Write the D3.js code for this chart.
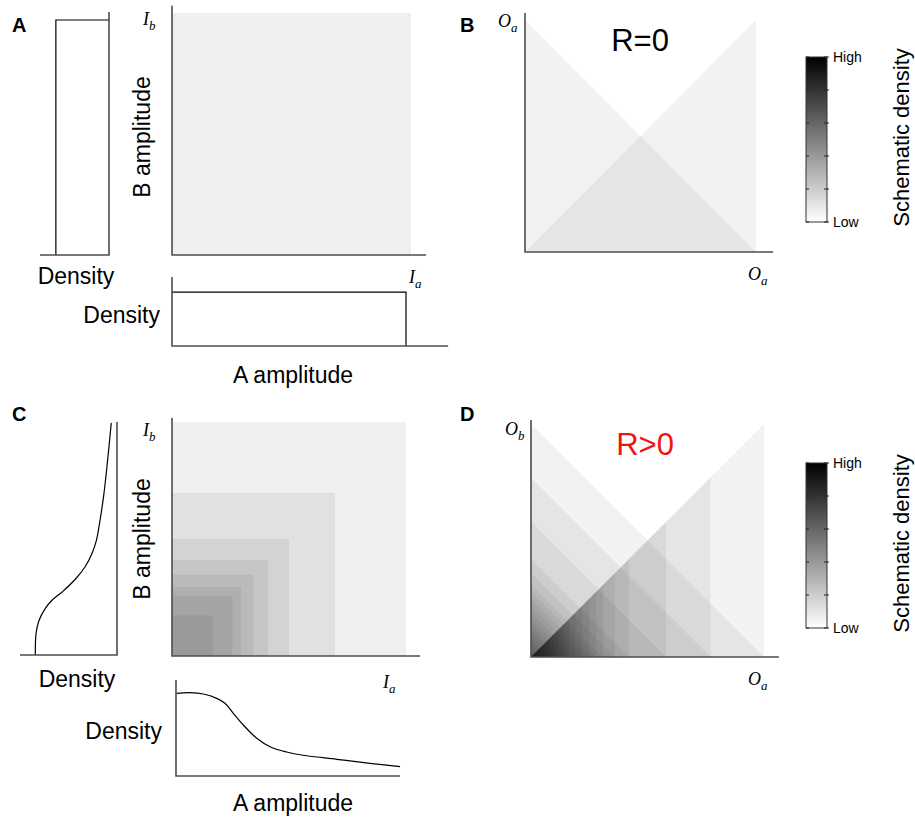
<!DOCTYPE html>
<html>
<head>
<meta charset="UTF-8">
<style>
  body { margin: 0; background: #fff; }
  svg text { font-family: "Liberation Sans", Arial, sans-serif; fill: #000; }
  svg text.sym { font-family: "Liberation Serif", "Times New Roman", serif; font-style: italic; }
</style>
</head>
<body>
<div id="fig"></div>
<script src="https://d3js.org/d3.v7.min.js"></script>
<script>

// ---- data (all in fractions of the axis range) ----
// flat input densities of panel A, as [amplitude, density] outline points
const uniformA = [[0, 0.78], [1, 0.78], [1, 0]];
const uniformB = [[0, 0.77], [1, 0.77], [1, 0]];
// skewed input densities of panel C, [amplitude, density]
const skewA = [[0.003, 0.861], [0.061, 0.868], [0.119, 0.854], [0.177, 0.809], [0.213, 0.757],
               [0.249, 0.653], [0.293, 0.531], [0.351, 0.393], [0.409, 0.305], [0.481, 0.25],
               [0.553, 0.216], [0.699, 0.174], [0.843, 0.132], [0.974, 0.097]];
const skewB = [[0, 0.842], [0.09, 0.835], [0.145, 0.807], [0.2, 0.739], [0.235, 0.67],
               [0.27, 0.567], [0.325, 0.43], [0.38, 0.327], [0.436, 0.258], [0.491, 0.213],
               [0.56, 0.182], [0.685, 0.137], [0.823, 0.1], [0.996, 0.059]];
// square sizes of the joint input density (A and C)
const squaresA = [1];
const squaresC = [1, 0.697, 0.50, 0.41, 0.347, 0.295, 0.258, 0.174];
// triangle sizes of the output density (B and D)
const trianglesB = [1];
const trianglesD = [1, 0.77, 0.58, 0.42, 0.36, 0.31, 0.28, 0.25, 0.22, 0.19, 0.165,
                    0.14, 0.12, 0.10, 0.08, 0.06, 0.04, 0.02];
const colorbarTicks = [0, 0.2, 0.4, 0.6, 0.8, 1];
const colorbarLabels = ["Low", "High"];
const rLabels = ["R=0", "R>0"];

const width = 915, height = 820;
const axisColor = "#4d4d4d";

const svg = d3.select("#fig").append("svg")
    .attr("width", width)
    .attr("height", height);

// gradient for the colour bars
const grad = svg.append("defs").append("linearGradient")
    .attr("id", "cbar")
    .attr("x1", 0).attr("y1", 1).attr("x2", 0).attr("y2", 0);
grad.append("stop").attr("offset", 0).attr("stop-color", "#ffffff");
grad.append("stop").attr("offset", 1).attr("stop-color", "#000000");

// L-shaped axis: vertical line up to yMax, horizontal line out to xMax
function axes(x, y, xMax, yMax) {
  svg.append("path")
    .attr("d", d3.line()([[x(0), y(yMax)], [x(0), y(0)], [x(xMax), y(0)]]))
    .attr("fill", "none")
    .attr("stroke", axisColor)
    .attr("stroke-width", 1.6);
}

function squares(data, x, y, op) {
  svg.append("g").selectAll("rect")
    .data(data)
    .enter().append("rect")
      .attr("x", x(0))
      .attr("y", d => y(d))
      .attr("width", d => x(d) - x(0))
      .attr("height", d => y(0) - y(d))
      .attr("fill", "#000")
      .attr("fill-opacity", op);
}

function triangles(data, x, y, op) {
  const poly = d3.line().x(p => x(p[0])).y(p => y(p[1]));
  const g = svg.append("g");
  // falling triangles (left) and rising triangles (right)
  g.selectAll("path.left")
    .data(data)
    .enter().append("path")
      .attr("class", "left")
      .attr("d", s => poly([[0, 0], [0, s], [s, 0]]) + "Z")
      .attr("fill", "#000").attr("fill-opacity", op);
  g.selectAll("path.right")
    .data(data)
    .enter().append("path")
      .attr("class", "right")
      .attr("d", s => poly([[0, 0], [s, s], [s, 0]]) + "Z")
      .attr("fill", "#000").attr("fill-opacity", op);
}

// density drawn under the main plot: amplitude along x, density up
function densityBottom(data, x, y, curve) {
  svg.append("path")
    .datum(data)
    .attr("d", d3.line().x(d => x(d[0])).y(d => y(d[1])).curve(curve))
    .attr("fill", "none")
    .attr("stroke", "#000")
    .attr("stroke-width", 1.2);
}

// density drawn left of the main plot: amplitude up, density to the left
function densityLeft(data, x, y, curve) {
  svg.append("path")
    .datum(data)
    .attr("d", d3.line().x(d => x(d[1])).y(d => y(d[0])).curve(curve))
    .attr("fill", "none")
    .attr("stroke", "#000")
    .attr("stroke-width", 1.2);
}

function label(txt, x, y, opts) {
  opts = opts || {};
  const t = svg.append("text")
    .attr("transform", "translate(" + x + "," + y + ")" + (opts.rotate ? " rotate(-90)" : ""))
    .attr("text-anchor", opts.anchor || "start")
    .style("font-size", (opts.size || 23) + "px")
    .text(txt);
  if (opts.bold) t.style("font-weight", "bold");
  if (opts.color) t.style("fill", opts.color);
  return t;
}

function symbol(main, sub, x, y) {
  const t = svg.append("text").attr("class", "sym")
    .attr("x", x).attr("y", y)
    .style("font-size", "18px");
  t.append("tspan").text(main);
  t.append("tspan").attr("dy", 5).style("font-size", "13px").text(sub);
}

function colorbar(top) {
  const cx = 806, cw = 21;
  const cy = d3.scaleLinear().domain([0, 1]).range([top + 165, top]);
  svg.append("rect")
    .attr("x", cx).attr("y", cy(1))
    .attr("width", cw).attr("height", cy(0) - cy(1))
    .attr("fill", "url(#cbar)")
    .attr("stroke", "#333").attr("stroke-width", 1);
  const g = svg.append("g");
  g.selectAll("line.l")
    .data(colorbarTicks)
    .enter().append("line")
      .attr("x1", cx).attr("x2", cx + 3)
      .attr("y1", d => cy(d)).attr("y2", d => cy(d))
      .attr("stroke", "#222");
  g.selectAll("line.r")
    .data(colorbarTicks)
    .enter().append("line")
      .attr("x1", cx + cw - 3).attr("x2", cx + cw + 2)
      .attr("y1", d => cy(d)).attr("y2", d => cy(d))
      .attr("stroke", "#222");
  label(colorbarLabels[1], cx + cw + 6, cy(1) + 5, {size: 14});
  label(colorbarLabels[0], cx + cw + 6, cy(0) + 5, {size: 14});
  label("Schematic density", 909, (cy(0) + cy(1)) / 2 - 2, {rotate: true, anchor: "middle", size: 22});
}

// ================= Panel A =================
const xA = d3.scaleLinear().domain([0, 1]).range([172, 411]);
const yA = d3.scaleLinear().domain([0, 1]).range([255, 13]);
squares(squaresA, xA, yA, 0.063);
axes(xA, yA, 1.063, 1.03);

const dLeftA = d3.scaleLinear().domain([0, 1]).range([109, 40]);
const bLeftA = d3.scaleLinear().domain([0, 1]).range([255, 20]);
densityLeft([[0, uniformB[0][1]], [1, uniformB[1][1]], [1, 0]], dLeftA, bLeftA, d3.curveLinear);
axes(dLeftA, bLeftA, 1, 1.034);

const xBotA = d3.scaleLinear().domain([0, 1]).range([172, 406]);
const dBotA = d3.scaleLinear().domain([0, 1]).range([346, 277]);
densityBottom(uniformA, xBotA, dBotA, d3.curveLinear);
axes(xBotA, dBotA, 1.18, 1);

symbol("I", "b", 143, 25);
symbol("I", "a", 409, 283);
label("Density", 76, 284, {anchor: "middle"});
label("Density", 160, 323, {anchor: "end"});
label("B amplitude", 150, 137, {rotate: true, anchor: "middle"});
label("A amplitude", 293, 383, {anchor: "middle"});
label("A", 12, 32, {bold: true, size: 20});

// ================= Panel B =================
const xB = d3.scaleLinear().domain([0, 1]).range([525, 756]);
const yB = d3.scaleLinear().domain([0, 1]).range([252, 20]);
triangles(trianglesB, xB, yB, 0.05);
axes(xB, yB, 1.074, 1.03);
symbol("O", "a", 498, 27);
symbol("O", "a", 748, 280);
label(rLabels[0], 640, 51, {anchor: "middle", size: 31});
colorbar(57);
label("B", 460, 32, {bold: true, size: 20});

// ================= Panel C =================
const xC = d3.scaleLinear().domain([0, 1]).range([172, 406]);
const yC = d3.scaleLinear().domain([0, 1]).range([656, 422]);
squares(squaresC, xC, yC, 0.06);
axes(xC, yC, 1.06, 1.017);

const dLeftC = d3.scaleLinear().domain([0, 1]).range([117, 20]);
const bLeftC = d3.scaleLinear().domain([0, 1]).range([655, 422]);
densityLeft(skewB, dLeftC, bLeftC, d3.curveCatmullRom.alpha(0.5));
axes(dLeftC, bLeftC, 1, 1.0);

const xBotC = d3.scaleLinear().domain([0, 1]).range([176, 406]);
const dBotC = d3.scaleLinear().domain([0, 1]).range([776, 680]);
densityBottom(skewA, xBotC, dBotC, d3.curveCatmullRom.alpha(0.5));
axes(xBotC, dBotC, 0.974, 1);

symbol("I", "b", 143, 436);
symbol("I", "a", 383, 688);
label("Density", 77, 687, {anchor: "middle"});
label("Density", 162, 739, {anchor: "end"});
label("B amplitude", 150, 539, {rotate: true, anchor: "middle"});
label("A amplitude", 293, 811, {anchor: "middle"});
label("C", 12, 421, {bold: true, size: 20});

// ================= Panel D =================
const xD = d3.scaleLinear().domain([0, 1]).range([531, 764]);
const yD = d3.scaleLinear().domain([0, 1]).range([657, 424]);
triangles(trianglesD, xD, yD, 0.05);
axes(xD, yD, 1.064, 1.017);
symbol("O", "b", 505, 435);
symbol("O", "a", 748, 685);
label(rLabels[1], 645, 455, {anchor: "middle", size: 31, color: "#f01414"});
colorbar(463);
label("D", 460, 421, {bold: true, size: 20});

</script>
</body>
</html>
